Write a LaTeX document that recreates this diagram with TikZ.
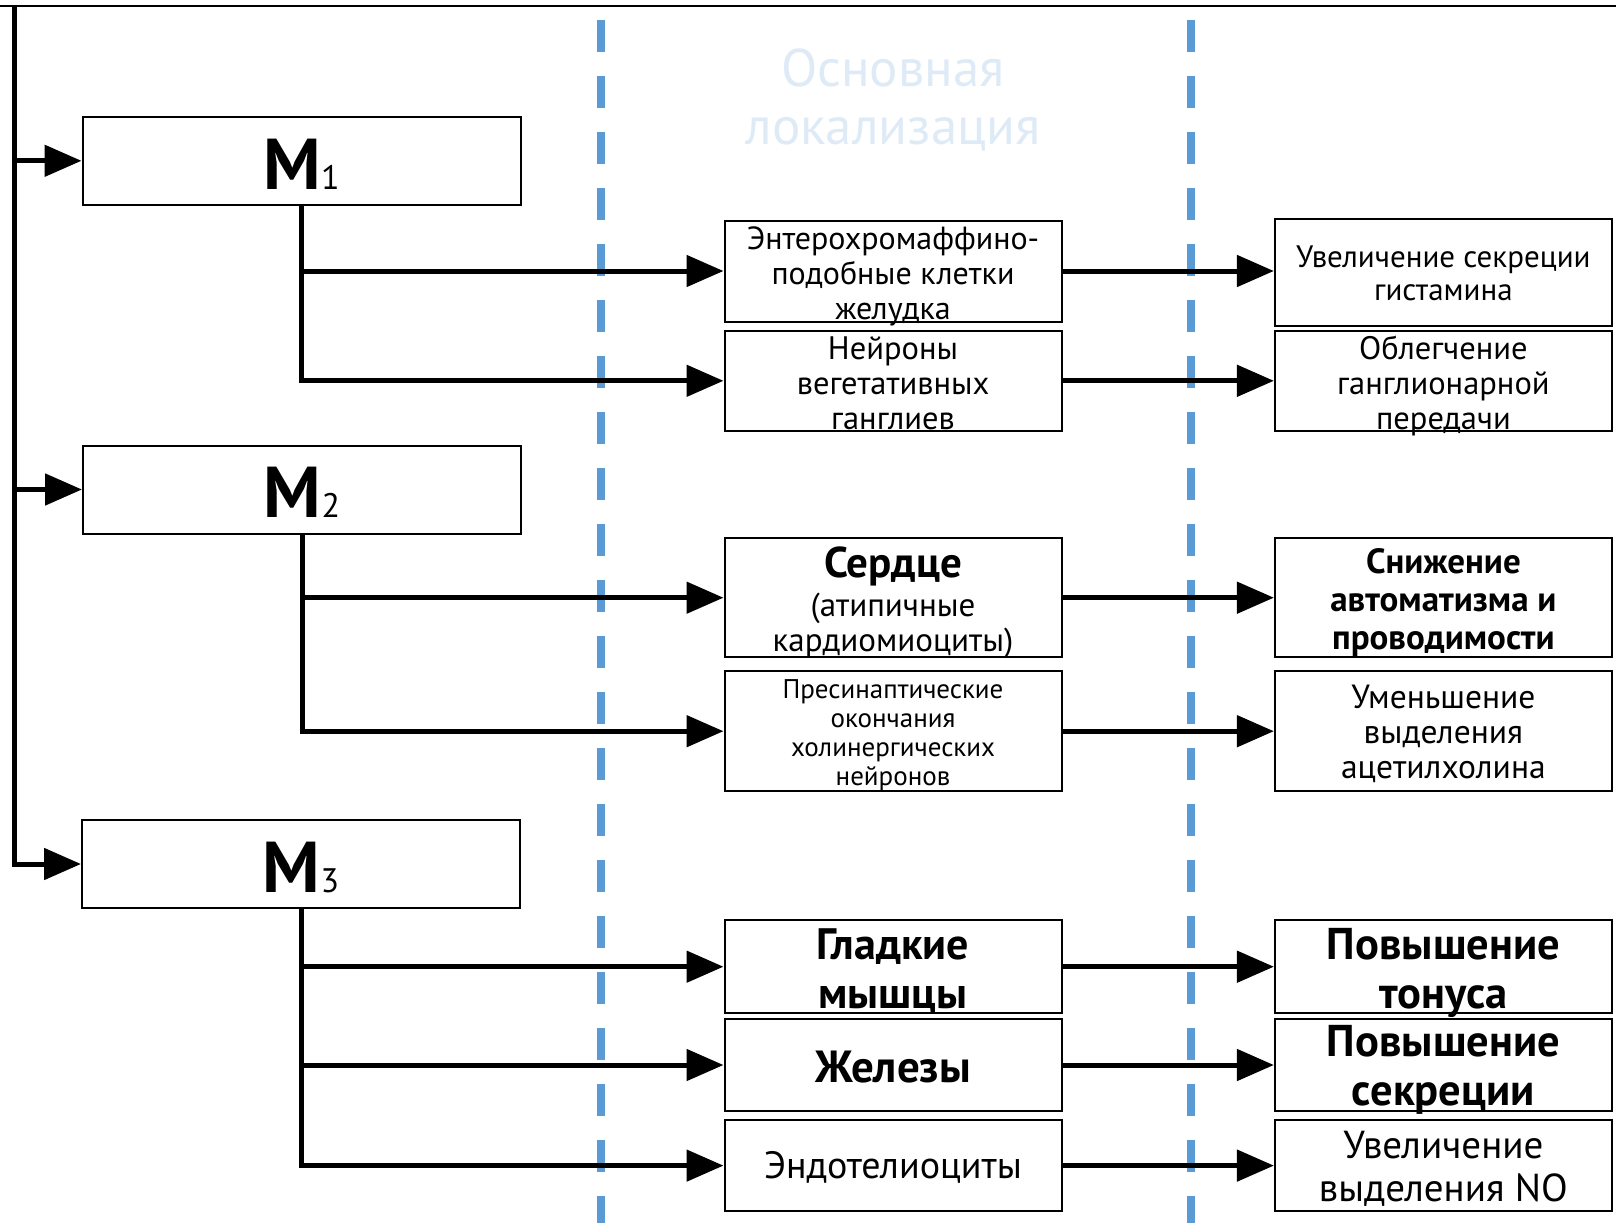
\documentclass[tikz,border=0pt]{standalone}
\usepackage{fontspec}
\setmainfont{PT Sans}
\usetikzlibrary{arrows.meta}
\definecolor{dashblue}{HTML}{5B9BD5}
\definecolor{paleblue}{HTML}{DEEBF7}
\newcommand{\myfs}[2]{\fontsize{#1pt}{#2pt}\selectfont}
\tikzset{
  box/.style={draw, line width=2pt, minimum width=337pt, inner sep=0pt, fill=white},
  txt/.style={align=center, inner sep=0pt},
  mbox/.style={draw, line width=2pt, minimum width=438pt, minimum height=88pt, inner sep=0pt},
  arr/.style={line width=5pt, -{Triangle[length=37pt,width=31pt]}},
  guide/.style={dashblue, line width=8pt, dash pattern=on 32pt off 24pt},
}
\begin{document}
\begin{tikzpicture}[x=1pt,y=-1pt]
\useasboundingbox (0,0) rectangle (1616,1223);
% guides
\draw[guide] (601,20) -- (601,1223);
\draw[guide] (1191,20) -- (1191,1223);
% title
\node[text=paleblue, font=\myfs{53}{58}, align=center] (title) at (893,100) {Основная\\локализация};
% top line
\coordinate (tl) at (0,6);
\coordinate (tr) at (1616,6);
\coordinate (trunk) at (14,6);
\draw[line width=2.5pt] (tl) -- (tr);
% M boxes
\node[mbox] (m1) at (301.5,160.8) {};
\node[mbox] (m2) at (302,489.5) {};
\node[mbox] (m3) at (301,864) {};
\node[txt] (m1t) at ([yshift=-3pt]m1.center) {\myfs{72}{72}\bfseries M\mdseries\myfs{34}{34}1};
\node[txt] (m2t) at ([yshift=-3pt]m2.center) {\myfs{72}{72}\bfseries M\mdseries\myfs{34}{34}2};
\node[txt] (m3t) at ([yshift=-3pt]m3.center) {\myfs{72}{72}\bfseries M\mdseries\myfs{34}{34}3};
% middle boxes
\node[box, minimum height=101pt] (b1) at (893,271) {};
\node[box, minimum height=100pt] (b2) at (893,380.8) {};
\node[box, minimum height=119.5pt] (b3) at (893,597.7) {};
\node[box, minimum height=120.5pt] (b4) at (893,731.2) {};
\node[box, minimum height=92.7pt] (b5) at (893,966.7) {};
\node[box, minimum height=91.7pt] (b6) at (893,1065) {};
\node[box, minimum height=90.7pt] (b7) at (893,1165.6) {};
\node[txt, font=\myfs{32}{35}] (b1t) at ([yshift=-5pt]b1.center) {Энтерохромаффино-\\подобные клетки\\желудка};
\node[txt, font=\myfs{32.5}{35}] (b2t) at ([yshift=-2pt]b2.center) {Нейроны\\вегетативных\\ганглиев};
\node[txt, font=\myfs{33}{35}] (b3t) at ([yshift=-5pt]b3.center) {{\bfseries\myfs{43}{44}Сердце}\\[4pt](атипичные\\кардиомиоциты)};
\node[txt, font=\myfs{27}{29}] (b4t) at ([yshift=-4pt]b4.center) {Пресинаптические\\окончания\\холинергических\\нейронов};
\node[txt, font=\bfseries\myfs{44}{49}] (b5t) at ([yshift=-4pt]b5.center) {Гладкие\\мышцы};
\node[txt, font=\bfseries\myfs{45}{49}] (b6t) at ([yshift=-2pt]b6.center) {Железы};
\node[txt, font=\myfs{38}{40}] (b7t) at ([yshift=-2pt]b7.center) {Эндотелиоциты};
% right boxes
\node[box, minimum height=107pt] (r1) at (1443.4,272) {};
\node[box, minimum height=100pt] (r2) at (1443.4,380.8) {};
\node[box, minimum height=119.5pt] (r3) at (1443.4,597.7) {};
\node[box, minimum height=120.5pt] (r4) at (1443.4,731.2) {};
\node[box, minimum height=92.7pt] (r5) at (1443.4,966.7) {};
\node[box, minimum height=91.7pt] (r6) at (1443.4,1065) {};
\node[box, minimum height=90.7pt] (r7) at (1443.4,1165.6) {};
\node[txt, font=\myfs{31}{33}] (r1t) at ([yshift=-1pt]r1.center) {Увеличение секреции\\гистамина};
\node[txt, font=\myfs{32.5}{35}] (r2t) at ([yshift=-5pt]r2.center) {Облегчение\\ганглионарной\\передачи};
\node[txt, font=\bfseries\myfs{35}{38}] (r3t) at ([yshift=-5pt]r3.center) {Снижение\\автоматизма и\\проводимости};
\node[txt, font=\myfs{33.5}{35}] (r4t) at ([yshift=-3pt]r4.center) {Уменьшение\\выделения\\ацетилхолина};
\node[txt, font=\bfseries\myfs{44.5}{49}] (r5t) at ([yshift=-6pt]r5.center) {Повышение\\тонуса};
\node[txt, font=\bfseries\myfs{44.5}{49}] (r6t) at ([yshift=-5pt]r6.center) {Повышение\\секреции};
\node[txt, font=\myfs{39}{43}] (r7t) at ([yshift=-3pt]r7.center) {Увеличение\\выделения NO};
% trunk
\draw[arr] (trunk) |- (m3.west);
\draw[arr] (trunk |- m1.west) -- (m1.west);
\draw[arr] (trunk |- m2.west) -- (m2.west);
% M1 branches
\draw[arr] (m1.south) |- (b2.west);
\draw[arr] (m1.south |- b1.west) -- (b1.west);
% M2 branches
\draw[arr] (m2.south) |- (b4.west);
\draw[arr] (m2.south |- b3.west) -- (b3.west);
% M3 branches
\draw[arr] (m3.south) |- (b7.west);
\draw[arr] (m3.south |- b5.west) -- (b5.west);
\draw[arr] (m3.south |- b6.west) -- (b6.west);
% middle to right
\draw[arr] (b1.east) -- (b1.east -| r1.west);
\draw[arr] (b2.east) -- (r2.west);
\draw[arr] (b3.east) -- (r3.west);
\draw[arr] (b4.east) -- (r4.west);
\draw[arr] (b5.east) -- (r5.west);
\draw[arr] (b6.east) -- (r6.west);
\draw[arr] (b7.east) -- (r7.west);
\end{tikzpicture}
\end{document}
